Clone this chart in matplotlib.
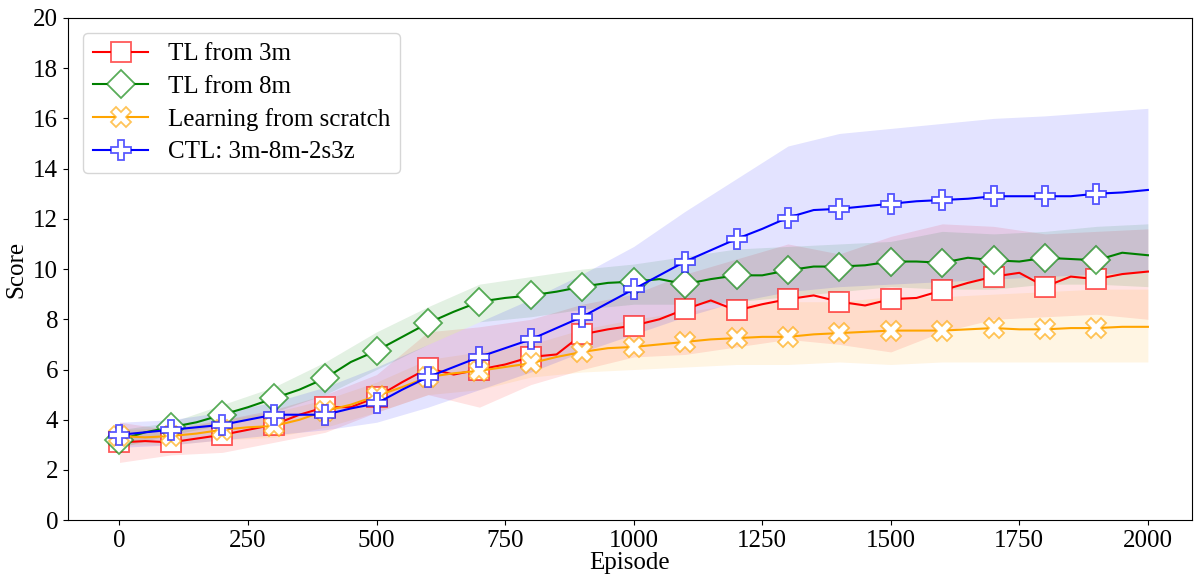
# Score vs episode for transfer learning runs
import matplotlib
matplotlib.use("Agg")
import matplotlib.pyplot as plt
import numpy as np

plt.rcParams['font.family'] = ['Liberation Serif', 'DejaVu Serif']

# episodes for the curves (every 50) and for the bands (every 100)
episodes = list(range(0, 2001, 50))
band_episodes = list(range(0, 2001, 100))

tl3m_mean = [3.1, 3.15, 3.1, 3.25, 3.4, 3.6, 3.8, 4.2, 4.5, 4.5, 4.9, 5.5, 6.05, 5.8,
             6.0, 6.2, 6.5, 6.6, 7.4, 7.6, 7.75, 8.0, 8.4, 8.75, 8.35, 8.6, 8.8, 8.95,
             8.7, 8.55, 8.8, 8.85, 9.15, 9.45, 9.7, 9.85, 9.3, 9.7, 9.6, 9.8, 9.9]
tl8m_mean = [3.2, 3.5, 3.7, 3.9, 4.2, 4.5, 4.85, 5.2, 5.65, 6.3, 6.75, 7.3, 7.85, 8.3,
             8.7, 8.85, 8.95, 9.1, 9.3, 9.45, 9.5, 9.6, 9.4, 9.6, 9.75, 9.75, 9.95, 10.1,
             10.1, 10.15, 10.3, 10.3, 10.25, 10.45, 10.35, 10.3, 10.45, 10.4, 10.35, 10.65, 10.55]
scratch_mean = [3.35, 3.3, 3.35, 3.45, 3.6, 3.7, 3.75, 4.0, 4.35, 4.6, 4.95, 5.3, 5.7, 5.85,
                5.95, 6.1, 6.25, 6.5, 6.7, 6.85, 6.9, 7.0, 7.1, 7.2, 7.25, 7.3, 7.3, 7.4,
                7.45, 7.5, 7.55, 7.55, 7.55, 7.6, 7.65, 7.6, 7.6, 7.65, 7.65, 7.7, 7.7]
ctl_mean = [3.4, 3.5, 3.6, 3.7, 3.8, 4.0, 4.2, 4.2, 4.2, 4.45, 4.65, 5.2, 5.7, 6.1,
            6.5, 6.85, 7.2, 7.65, 8.1, 8.65, 9.2, 9.75, 10.3, 10.75, 11.2, 11.6, 12.05, 12.35,
            12.4, 12.5, 12.6, 12.7, 12.75, 12.8, 12.9, 12.9, 12.9, 12.9, 13.0, 13.05, 13.15]

tl3m_low = [2.3, 2.6, 2.7, 3.1, 3.5, 4.3, 5.0, 4.5, 5.4, 6.0, 6.5, 6.6, 6.9, 7.2, 7.0,
            6.7, 7.5, 8.0, 8.1, 8.2, 8.0]
tl3m_high = [3.9, 3.6, 4.0, 4.4, 5.0, 5.8, 7.5, 7.7, 8.0, 8.6, 9.0, 9.8, 10.4, 11.0, 10.6,
             11.3, 11.8, 11.7, 11.4, 11.5, 11.6]
tl8m_low = [2.9, 3.4, 3.8, 4.3, 5.0, 6.0, 7.0, 7.9, 8.1, 8.4, 8.6, 8.6, 8.7, 8.9, 9.1,
            9.3, 9.2, 9.2, 9.4, 9.4, 9.3]
tl8m_high = [3.6, 3.9, 4.6, 5.3, 6.3, 7.5, 8.5, 9.4, 9.7, 10.0, 10.2, 10.5, 10.8, 10.9, 11.0,
             11.1, 11.5, 11.4, 11.5, 11.7, 11.8]
scratch_low = [3.0, 3.0, 3.2, 3.3, 3.7, 4.3, 5.0, 5.2, 5.7, 5.9, 6.0, 6.1, 6.2, 6.2, 6.3,
               6.2, 6.3, 6.3, 6.3, 6.3, 6.3]
scratch_high = [3.6, 3.7, 4.0, 4.3, 4.8, 5.5, 6.4, 6.7, 7.0, 7.6, 8.0, 8.3, 8.6, 8.7, 8.7,
                8.9, 8.9, 9.0, 9.1, 9.2, 9.2]
ctl_low = [2.9, 3.0, 3.2, 3.4, 3.6, 3.9, 4.5, 5.2, 5.9, 6.7, 7.4, 8.1, 8.7, 9.1, 9.3,
           9.4, 9.5, 9.6, 9.7, 9.8, 9.9]
ctl_high = [3.9, 4.0, 4.3, 4.7, 5.3, 6.1, 7.0, 7.9, 8.8, 9.8, 10.9, 12.3, 13.6, 14.9, 15.4,
            15.6, 15.8, 16.0, 16.1, 16.25, 16.4]

labels = ["TL from 3m", "TL from 8m", "Learning from scratch", "CTL: 3m-8m-2s3z"]


def plot_scores():
    fig = plt.figure(figsize=(11.94, 5.78), dpi=100)
    ax = fig.add_axes([0.057, 0.100, 0.941, 0.869])

    series = [
        (tl3m_mean, tl3m_low, tl3m_high, 'red', 's', 14),
        (tl8m_mean, tl8m_low, tl8m_high, 'green', 'D', 14),
        (scratch_mean, scratch_low, scratch_high, 'orange', 'X', 15),
        (ctl_mean, ctl_low, ctl_high, 'blue', 'P', 15),
    ]
    marks = list(range(0, len(episodes) - 1, 2))

    for (mean, low, high, color, marker, ms), label in zip(series, labels):
        ax.fill_between(band_episodes, low, high, color=color, alpha=0.11, linewidth=0)
        ax.plot(episodes, mean, color=color, linewidth=1.5, label=label,
                marker=marker, markersize=ms, markevery=marks,
                markerfacecolor='white', markeredgecolor=matplotlib.colors.to_rgba(color, 0.65),
                markeredgewidth=1.3)

    ax.set_xlim(-100, 2085)
    ax.set_ylim(0, 20)
    ax.set_yticks(range(0, 21, 2))
    ax.set_xticks(range(0, 2001, 250))
    ax.tick_params(labelsize=18)
    ax.set_xlabel("Episode", fontsize=18, labelpad=0)
    ax.set_ylabel("Score", fontsize=18)
    ax.legend(loc='upper left', fontsize=18, handlelength=2.2, borderaxespad=0.6,
              labelspacing=0.4)

    fig.savefig("out.png", dpi=100)


def main():
    plot_scores()


if __name__ == "__main__":
    main()
